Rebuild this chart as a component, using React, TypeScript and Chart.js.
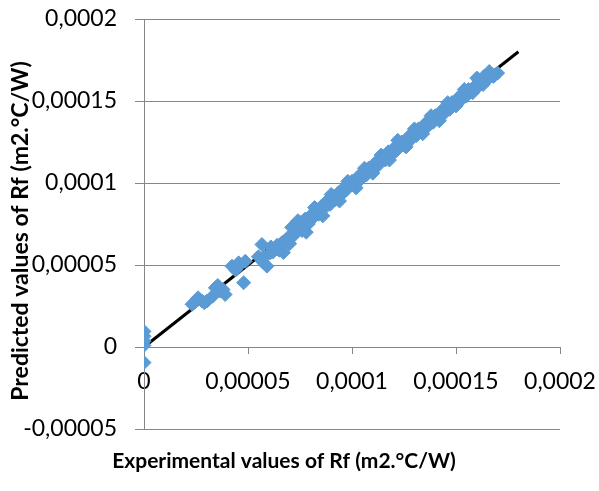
import React, { useEffect, useRef } from "react";
import { Chart, registerables } from "chart.js";

Chart.register(...registerables);

// values in units of 1e-6 m2.°C/W
const UNIT = 1e-6;

const experimentalRf = [
  0, 0, 0, 0, 0,
  23.1, 25.5, 27.9, 30.3, 24.5, 34.3, 36.7, 39, 35.5, 42.3, 45.5, 48.7, 47.9, 44,
  56.7, 59.1, 60.7, 58, 57, 66.3, 67, 63, 61,
  68, 69.5, 71, 72, 73.5, 75, 76, 77.5, 79, 80,
  81.5, 83, 84, 85.5, 87, 88, 89.5, 91, 92, 93.5,
  95, 96, 97.5, 99, 100, 101.5, 103, 104, 105.5, 107,
  108, 109.5, 111, 112, 113.5, 115, 116, 117.5, 119, 120,
  121.5, 123, 124, 125.5, 127, 128, 129.5, 131, 132, 133.5,
  135, 136, 137.5, 139, 140, 141.5, 143, 144, 145.5, 147,
  148, 149.5, 151, 152, 153.5, 155, 156, 157.5, 159, 160,
  161, 162.5, 163.5, 165, 167, 170,
  26, 29, 33, 38, 46, 55, 62, 64, 65,
  70, 74, 78, 82, 86, 90, 94, 98, 102, 106,
  110, 114, 118, 122, 126, 130, 134, 138, 142, 146,
  150, 154, 158, 160, 163, 166, 168,
];

const predictedRf = [
  9.5, 6.5, 3.5, 1, -9.5,
  26, 29, 28, 28, 27.5, 36.1, 34.1, 32, 37.5, 49.3, 51.3, 52.3, 39.2, 47,
  62.5, 49.3, 57.4, 55, 52, 63.5, 57.6, 60, 61,
  64, 67, 73, 68, 72, 76, 71, 78, 75, 80,
  79, 84, 81, 86, 85, 89, 87, 92, 90, 94,
  93, 97, 96, 99, 101, 100, 104, 102, 106, 105,
  109, 108, 112, 110, 113, 116, 114, 119, 117, 121,
  120, 124, 125, 123, 128, 126, 130, 129, 133, 131,
  136, 134, 138, 137, 141, 140, 144, 142, 146, 145,
  149, 148, 152, 150, 154, 153, 157, 156, 159, 158,
  163, 161, 165, 163, 166, 167,
  30, 27, 31, 35, 50, 55, 58, 62, 59,
  63, 77, 70, 85, 80, 93, 89, 101, 97, 109,
  106, 117, 114, 126, 122, 133, 130, 141, 138, 149,
  147, 157, 155, 164, 160, 168, 165,
];

const refLineX = [0, 180];
const refLineY = [0, 180];

const xTickValues = [0, 50, 100, 150, 200];
const xTickLabels = ["0", "0,00005", "0,0001", "0,00015", "0,0002"];
const yTickValues = [-50, 0, 50, 100, 150, 200];
const yTickLabels = ["-0,00005", "0", "0,00005", "0,0001", "0,00015", "0,0002"];

const xTitle = "Experimental values of Rf (m2.°C/W)";
const yTitle = "Predicted values of Rf (m2.°C/W)";

const GRID = "#868686";
const BLUE = "#5B9BD5";

const axisTitles = {
  id: "axisTitles",
  afterDraw(chart: any) {
    const ctx = chart.ctx;
    ctx.save();
    ctx.fillStyle = "#000";
    ctx.textAlign = "center";
    ctx.textBaseline = "middle";
    ctx.font = "bold 21px Lato";
    ctx.fillText(xTitle, 284, 461);
    ctx.font = "bold 23px Lato";
    ctx.translate(21, 231);
    ctx.rotate(-Math.PI / 2);
    ctx.fillText(yTitle, 0, 0);
    ctx.restore();
  },
};

const zeroPadding = (s: any) => {
  s.paddingTop = 0;
  s.paddingBottom = 0;
  s.paddingLeft = 0;
  s.paddingRight = 0;
};

export default function App() {
  const ref = useRef<HTMLCanvasElement>(null);
  useEffect(() => {
    const points = experimentalRf.map((x, i) => ({ x: x * UNIT, y: predictedRf[i] * UNIT }));
    const line = refLineX.map((x, i) => ({ x: x * UNIT, y: refLineY[i] * UNIT }));
    const chart = new Chart(ref.current!, {
      type: "scatter",
      data: {
        datasets: [
          {
            label: "data",
            data: points,
            pointStyle: "rectRot",
            pointRadius: 7,
            pointBorderWidth: 1,
            backgroundColor: BLUE,
            borderColor: BLUE,
            order: 0,
          },
          {
            label: "y=x",
            type: "line",
            data: line,
            borderColor: "#000",
            borderWidth: 3,
            pointRadius: 0,
            showLine: true,
            order: 1,
          } as any,
        ],
      },
      options: {
        animation: false,
        responsive: false,
        devicePixelRatio: 1,
        layout: { autoPadding: false, padding: { left: 0, right: 39, top: 19, bottom: 62 } } as any,
        plugins: { legend: { display: false }, tooltip: { enabled: false }, title: { display: false } },
        scales: {
          x: {
            type: "linear",
            position: { y: 0 } as any,
            min: 0,
            max: 200 * UNIT,
            afterFit: (s: any) => { s.height = 0; zeroPadding(s); },
            afterBuildTicks: (s: any) => { s.ticks = xTickValues.map((v) => ({ value: v * UNIT })); },
            ticks: {
              callback: (_v: any, i: number) => xTickLabels[i],
              font: { family: "Lato", size: 23 },
              color: "#000",
              padding: 15,
              maxRotation: 0,
              autoSkip: false,
            },
            grid: { display: true, drawOnChartArea: false, drawTicks: true, tickLength: 6, color: GRID, lineWidth: 1 },
            border: { display: true, color: GRID, width: 1 },
          },
          y: {
            type: "linear",
            position: "left",
            min: -50 * UNIT,
            max: 200 * UNIT,
            afterFit: (s: any) => { s.width = 144; zeroPadding(s); },
            afterBuildTicks: (s: any) => { s.ticks = yTickValues.map((v) => ({ value: v * UNIT })); },
            ticks: {
              callback: (_v: any, i: number) => yTickLabels[i],
              font: { family: "Lato", size: 23 },
              color: "#000",
              padding: 18,
              autoSkip: false,
            },
            grid: { display: true, drawTicks: true, tickLength: 9, color: GRID, lineWidth: 1 },
            border: { display: true, color: GRID, width: 1 },
          },
        },
      },
      plugins: [axisTitles],
    });
    return () => chart.destroy();
  }, []);
  return (
    <div style={{ position: "fixed", left: 0, top: 0, width: 599, height: 491, background: "#fff" }}>
      <canvas ref={ref} width={599} height={491} style={{ width: 599, height: 491, display: "block" }} />
    </div>
  );
}
